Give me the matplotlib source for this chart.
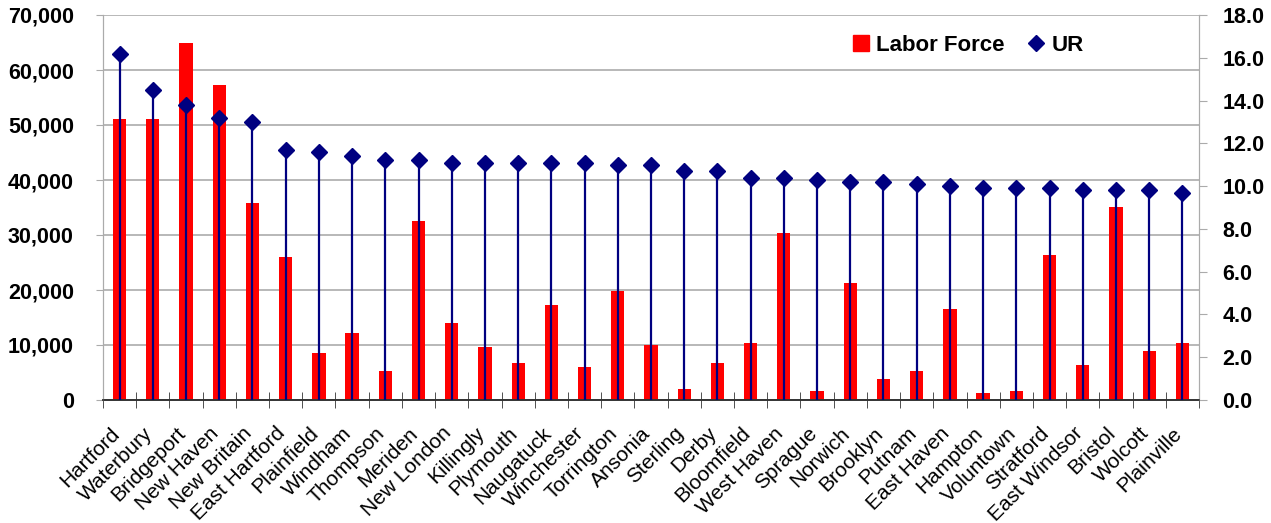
import matplotlib
matplotlib.use("Agg")
import matplotlib.pyplot as plt
import matplotlib.transforms as mtransforms
from matplotlib.lines import Line2D
from matplotlib.ticker import FuncFormatter, MultipleLocator
import numpy as np

plt.rcParams["font.family"] = ["Liberation Sans", "DejaVu Sans"]

towns = ["Hartford", "Waterbury", "Bridgeport", "New Haven", "New Britain",
         "East Hartford", "Plainfield", "Windham", "Thompson", "Meriden",
         "New London", "Killingly", "Plymouth", "Naugatuck", "Winchester",
         "Torrington", "Ansonia", "Sterling", "Derby", "Bloomfield",
         "West Haven", "Sprague", "Norwich", "Brooklyn", "Putnam",
         "East Haven", "Hampton", "Voluntown", "Stratford", "East Windsor",
         "Bristol", "Wolcott", "Plainville"]

labor_force = [51100, 51100, 64900, 57300, 35800,
               26000, 8500, 12200, 5300, 32500,
               14000, 9600, 6700, 17300, 6000,
               19800, 10000, 2000, 6700, 10400,
               30400, 1600, 21300, 3800, 5300,
               16500, 1300, 1600, 26400, 6400,
               35100, 8900, 10400]

ur = [16.2, 14.5, 13.8, 13.2, 13.0,
      11.7, 11.6, 11.4, 11.2, 11.2,
      11.1, 11.1, 11.1, 11.1, 11.1,
      11.0, 11.0, 10.7, 10.7, 10.4,
      10.4, 10.3, 10.2, 10.2, 10.1,
      10.0, 9.9, 9.9, 9.9, 9.8,
      9.8, 9.8, 9.7]

RED = "#ff0000"
NAVY = "#000080"
GRID = "#ababab"

x = np.arange(len(towns))

fig = plt.figure(figsize=(12.71, 5.23), dpi=100)
ax = fig.add_axes([103 / 1271, 1 - 400 / 523, 1096 / 1271, 385 / 523])
ax2 = ax.twinx()

ax.bar(x, labor_force, width=0.4, color=RED, zorder=2)
ax.set_ylim(0, 70000)
ax.set_xlim(-0.5, len(towns) - 0.5)
ax.yaxis.set_major_locator(MultipleLocator(10000))
ax.yaxis.set_major_formatter(FuncFormatter(lambda v, p: f"{int(v):,}"))
ax.grid(axis="y", color=GRID, linewidth=1.2, zorder=0)
ax.set_axisbelow(True)

ax2.vlines(x, 0, ur, color=NAVY, linewidth=1.6, zorder=3)
ax2.plot(x, ur, linestyle="none", marker="D", markersize=8, color=NAVY, zorder=4)
ax2.set_ylim(0, 18)
ax2.yaxis.set_major_locator(MultipleLocator(2))
ax2.yaxis.set_major_formatter(FuncFormatter(lambda v, p: f"{v:.1f}"))

# category labels and boundary ticks
ax.set_xticks(x)
ax.set_xticklabels(towns, rotation=45, ha="right", rotation_mode="anchor", fontsize=15)
ax.set_xticks(np.arange(-0.5, len(towns) + 0.5, 1), minor=True)
ax.tick_params(axis="x", which="major", length=0, pad=17)
ax.tick_params(axis="x", which="minor", length=12, direction="inout", color="#333333")
shift = mtransforms.ScaledTranslation(-10 / 100, 0, fig.dpi_scale_trans)
for lbl in ax.get_xticklabels():
    lbl.set_transform(lbl.get_transform() + shift)

for lbl in ax.get_yticklabels() + ax2.get_yticklabels():
    lbl.set_fontweight("bold")
    lbl.set_fontsize(15.5)
ax.tick_params(axis="y", length=5, color=GRID, pad=16)
ax2.tick_params(axis="y", length=6, color=GRID, pad=11)

for a in (ax, ax2):
    a.spines["top"].set_visible(False)
    a.spines["left"].set_color(GRID)
    a.spines["right"].set_color(GRID)
    a.spines["bottom"].set_color("#333333")
    a.spines["bottom"].set_linewidth(1.2)

handles = [Line2D([0], [0], marker="s", linestyle="none", markersize=12, color=RED, label="Labor Force"),
           Line2D([0], [0], marker="D", linestyle="none", markersize=8, color=NAVY, label="UR")]
ax2.legend(handles=handles, ncol=2, frameon=False, loc="upper right",
           bbox_to_anchor=(0.913, 1.0), prop={"weight": "bold", "size": 16},
           handletextpad=0.2, columnspacing=0.9, handlelength=1.0)

# title sits mostly above the canvas in the reference
fig.text(835 / 1271, 1.010, "Unemployment Rate above the national average (9.6%)",
         ha="right", va="baseline", fontsize=14, color="#222222")

fig.savefig("out.png", dpi=100)
